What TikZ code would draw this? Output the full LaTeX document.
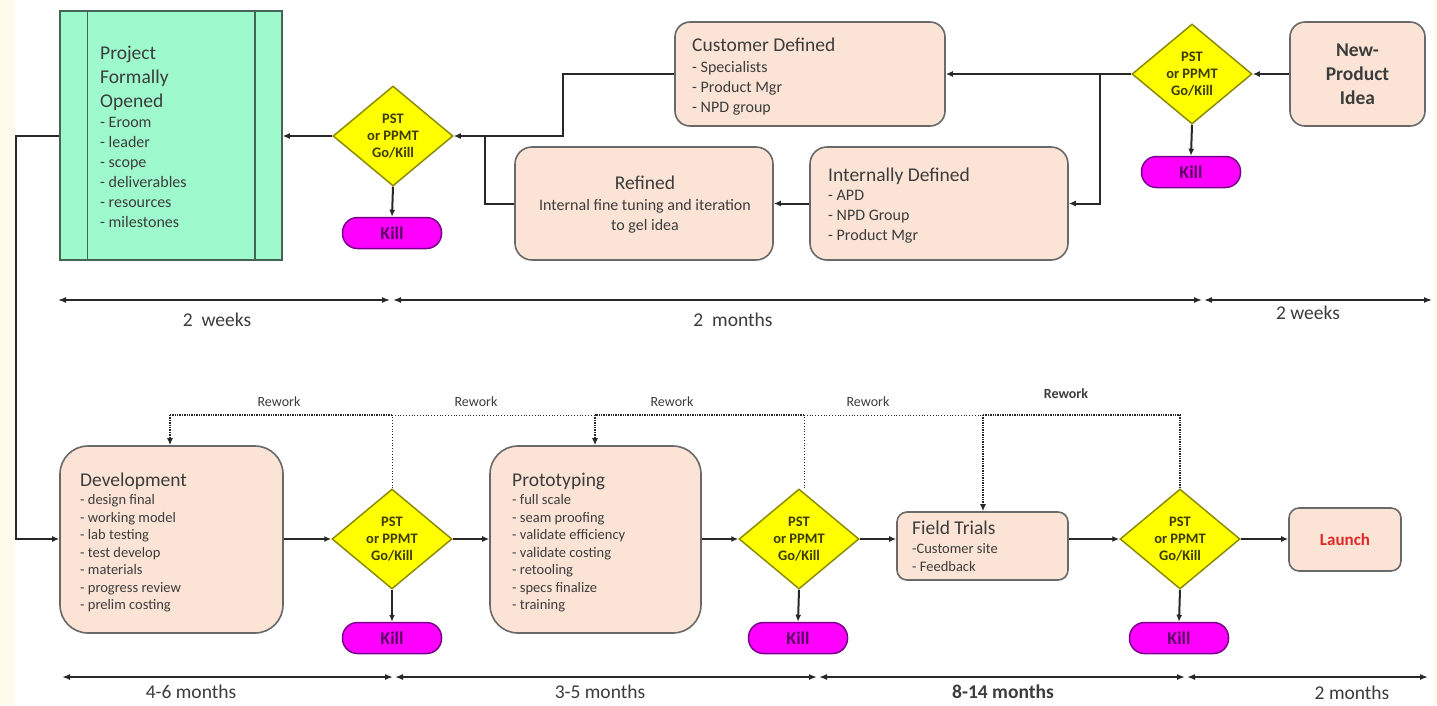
\documentclass[tikz,border=0pt]{standalone}
\usepackage{fontspec}
\setmainfont{Carlito}
\usetikzlibrary{shapes.geometric,arrows.meta,calc}
\definecolor{peach}{RGB}{251,228,213}
\definecolor{mint}{RGB}{158,250,205}
\definecolor{cream}{RGB}{255,250,236}
\definecolor{lineC}{RGB}{40,40,40}
\definecolor{boxB}{RGB}{105,105,105}
\definecolor{pfB}{RGB}{70,100,85}
\definecolor{dyellow}{RGB}{140,140,0}
\definecolor{gyellow}{RGB}{255,255,0}
\definecolor{kfill}{RGB}{255,0,255}
\definecolor{kborder}{RGB}{120,0,140}
\definecolor{ktext}{RGB}{90,0,100}
\definecolor{txt}{RGB}{60,60,60}
\definecolor{gtxt}{RGB}{60,60,0}
\definecolor{launchred}{RGB}{225,40,40}
\newcommand\fsz[2]{\fontsize{#1}{#2}\selectfont}
\begin{document}
\begin{tikzpicture}[x=1pt,y=-1pt,
  pbox/.style={draw=boxB,line width=1.6pt,fill=peach,inner sep=0pt},
  gate/.style={diamond,draw=dyellow,line width=1.5pt,fill=gyellow,minimum width=120pt,minimum height=100pt,inner sep=0pt,align=center,font=\bfseries\fsz{14.5}{17},text=gtxt},
  killbox/.style={draw=kborder,line width=1.5pt,fill=kfill,rounded corners=15pt,minimum width=99pt,minimum height=31pt,inner sep=0pt,font=\bfseries\fsz{18}{20},text=ktext},
  conn/.style={draw=lineC,line width=2pt},
  arr/.style={conn,-{Latex[length=7pt,width=6pt]}},
  span/.style={draw=lineC,line width=1.5pt,{Latex[length=8pt,width=6pt]}-{Latex[length=8pt,width=6pt]}},
  head/.style={font=\fsz{19.5}{24},text=txt,inner sep=0pt,anchor=base west},
  item/.style={font=\fsz{16}{20},text=txt,inner sep=0pt,anchor=base west},
  sitem/.style={font=\fsz{14.5}{17.5},text=txt,inner sep=0pt,anchor=base west},
  tlabel/.style={font=\fsz{19.5}{24},text=txt,inner sep=0pt,anchor=base},
  rw/.style={font=\fsz{14}{16},text=txt,inner sep=0pt,anchor=base},
  dthin/.style={draw=lineC,line width=0.8pt,dotted},
  dthick/.style={draw=lineC,line width=1.4pt,densely dotted},
  dtip/.style={-{Latex[length=7pt,width=6pt]}}
]
\useasboundingbox (0,0) rectangle (1437,705);
\fill[white] (0,0) rectangle (1437,705);
\fill[cream] (0,0) rectangle (15,705);
\fill[cream] (1433,0) rectangle (1437,705);

% ---------- top row ----------
\node[draw=pfB,line width=1.6pt,fill=mint,minimum width=222pt,minimum height=249pt,inner sep=0pt] (PF) at (171,135.5) {};
\draw[draw=pfB,line width=1.4pt] ($(PF.north west)+(28,0)$) -- ($(PF.south west)+(28,0)$);
\draw[draw=pfB,line width=1.4pt] ($(PF.north east)+(-28,0)$) -- ($(PF.south east)+(-28,0)$);
\foreach \t [count=\i] in {Project,Formally,Opened}
  \node[head] (pfh\i) at (100,{59+(\i-1)*24}) {\t};
\foreach \t [count=\i] in {- Eroom,- leader,- scope,- deliverables,- resources,- milestones}
  \node[item] (pfi\i) at (100,{127+(\i-1)*20}) {\t};

\node[gate] (D0) at (393,136) {PST\\or PPMT\\Go/Kill};
\node[killbox] (K0) at (392,233) {Kill};

\node[pbox,rounded corners=15pt,minimum width=270pt,minimum height=104pt] (CD) at (810,74) {};
\node[head] (cdh) at (692,51) {Customer Defined};
\foreach \t [count=\i] in {- Specialists,- Product Mgr,- NPD group}
  \node[item] (cdi\i) at (692,{72+(\i-1)*20}) {\t};

\node[pbox,rounded corners=17pt,minimum width=258pt,minimum height=113pt] (RF) at (644,203.5) {};
\node[head,anchor=base] (rfh) at (645,189) {Refined};
\node[item,anchor=base] (rfi1) at (645,210) {Internal fine tuning and iteration};
\node[item,anchor=base] (rfi2) at (645,230) {to gel idea};

\node[pbox,rounded corners=17pt,minimum width=258pt,minimum height=113pt] (ID) at (939,203.5) {};
\node[head] (idh) at (828,181) {Internally Defined};
\foreach \t [count=\i] in {- APD,- NPD Group,- Product Mgr}
  \node[item] (idi\i) at (828,{200+(\i-1)*20}) {\t};

\node[gate] (DT) at (1192,74) {PST\\or PPMT\\Go/Kill};
\node[killbox] (KT) at (1191,172) {Kill};

\node[pbox,rounded corners=15pt,minimum width=135pt,minimum height=104pt] (NP) at (1357.5,74) {};
\foreach \t [count=\i] in {New-,Product,Idea}
  \node[head,anchor=base,font=\bfseries\fsz{19.5}{24}] (nph\i) at (1357.5,{56+(\i-1)*24}) {\t};

% top connectors
\coordinate (j1) at (1100,74);
\coordinate (j2) at (563,74);
\coordinate (j3) at (485,136);
\draw[arr] (NP.west) -- (DT.east);
\draw[arr] (DT.west) -- (CD.east);
\draw[arr] (j1) -- (j1 |- ID.east) -- (ID.east);
\draw[arr] (ID.west) -- (RF.east);
\draw[arr] (CD.west) -- (j2) -- (j2 |- D0.east) -- (D0.east);
\draw[conn] (RF.west) -- (RF.west -| j3) -- (j3);
\draw[arr] (D0.west) -- (PF.east |- D0.west);
\draw[arr] (D0.south) -- (K0.north);
\draw[arr] (DT.south) -- (KT.north);

% ---------- timeline 1 ----------
\coordinate (a0) at (58,300);   \coordinate (a1) at (390,300);
\coordinate (a2) at (393,300);  \coordinate (a3) at (1202,300);
\coordinate (a4) at (1204,300); \coordinate (a5) at (1432,300);
\draw[span] (a0) -- (a1);
\draw[span] (a2) -- (a3);
\draw[span] (a4) -- (a5);
\node[tlabel] (t1) at (217,326) {2~ weeks};
\node[tlabel] (t2) at (733,326) {2~ months};
\node[tlabel] (t3) at (1308,319) {2 weeks};

% ---------- bottom row ----------
\node[pbox,rounded corners=28pt,minimum width=223pt,minimum height=187pt] (DV) at (171.5,539.5) {};
\node[head] (dvh) at (80,486) {Development};
\foreach \t [count=\i] in {- design final,- working model,- lab testing,- test develop,- materials,- progress review,- prelim costing}
  \node[sitem] (dvi\i) at (80,{504.5+(\i-1)*17.5}) {\t};

\node[gate] (D1) at (392,539) {PST\\or PPMT\\Go/Kill};
\node[killbox] (K1) at (392,638) {Kill};

\node[pbox,rounded corners=28pt,minimum width=211pt,minimum height=187pt] (PR) at (595.5,539.5) {};
\node[head] (prh) at (512,486) {Prototyping};
\foreach \t [count=\i] in {- full scale,- seam proofing,- validate efficiency,- validate costing,- retooling,- specs finalize,- training}
  \node[sitem] (pri\i) at (512,{504.5+(\i-1)*17.5}) {\t};

\node[gate] (D2) at (799,539) {PST\\or PPMT\\Go/Kill};
\node[killbox] (K2) at (798,638) {Kill};

\node[pbox,rounded corners=10pt,minimum width=171pt,minimum height=68pt] (FT) at (982.5,546) {};
\node[head] (fth) at (912,534) {Field Trials};
\node[sitem] (fti1) at (912,553.5) {-Customer site};
\node[sitem] (fti2) at (912,571.5) {- Feedback};

\node[gate] (D3) at (1180,539) {PST\\or PPMT\\Go/Kill};
\node[killbox] (K3) at (1179,638) {Kill};

\node[pbox,rounded corners=10pt,minimum width=112pt,minimum height=63pt,font=\bfseries\fsz{17}{20},text=launchred] (LA) at (1345,539.5) {Launch};

% bottom connectors
\coordinate (c0) at (16,136);
\draw[arr] (PF.west |- c0) -- (c0) -- (c0 |- D1.west) -- (DV.west |- D1.west);
\draw[arr] (DV.east |- D1.west) -- (D1.west);
\draw[arr] (D1.east) -- (PR.west |- D1.east);
\draw[arr] (PR.east |- D2.west) -- (D2.west);
\draw[arr] (D2.east) -- (FT.west |- D2.east);
\draw[arr] (FT.east |- D3.west) -- (D3.west);
\draw[arr] (D3.east) -- (LA.west |- D3.east);
\draw[arr] (D1.south) -- (K1.north);
\draw[arr] (D2.south) -- (K2.north);
\draw[arr] (D3.south) -- (K3.north);

% rework loops
\coordinate (r0) at (170,415);
\coordinate (r1) at (392,415);
\coordinate (r2) at (595,415);
\coordinate (r3) at (804,415);
\coordinate (r4) at (983,415);
\coordinate (r5) at (1180,415);
\draw[dthin] (D1.north) -- (r1);
\draw[dthick] (r1) -- (r0);
\draw[dthick,dtip] (r0) -- (r0 |- DV.north);
\draw[dthin] (r1) -- (r2);
\draw[dthin] (D2.north -| r3) -- (r3);
\draw[dthick] (r3) -- (r2);
\draw[dthick,dtip] (r2) -- (r2 |- PR.north);
\draw[dthin] (r3) -- (r4);
\draw[dthick] (D3.north) -- (r5) -- (r4);
\draw[dthick,dtip] (r4) -- (r4 |- FT.north);
\node[rw] (rw1) at (279,406.5) {Rework};
\node[rw] (rw2) at (476,406.5) {Rework};
\node[rw] (rw3) at (672,406.5) {Rework};
\node[rw] (rw4) at (868,406.5) {Rework};
\node[rw,font=\bfseries\fsz{14}{16}] (rw5) at (1066,398.5) {Rework};

% ---------- timeline 2 ----------
\coordinate (b0) at (62,677);   \coordinate (b1) at (393,677);
\coordinate (b2) at (395,677);  \coordinate (b3) at (817,677);
\coordinate (b4) at (819,677);  \coordinate (b5) at (1185,677);
\coordinate (b6) at (1187,677); \coordinate (b7) at (1428,677);
\draw[span] (b0) -- (b1);
\draw[span] (b2) -- (b3);
\draw[span] (b4) -- (b5);
\draw[span] (b6) -- (b7);
\node[tlabel] (u1) at (191,698) {4-6 months};
\node[tlabel] (u2) at (600,698) {3-5 months};
\node[tlabel,font=\bfseries\fsz{19.5}{24}] (u3) at (1003,698) {8-14 months};
\node[tlabel] (u4) at (1352,699) {2 months};
\end{tikzpicture}
\end{document}
